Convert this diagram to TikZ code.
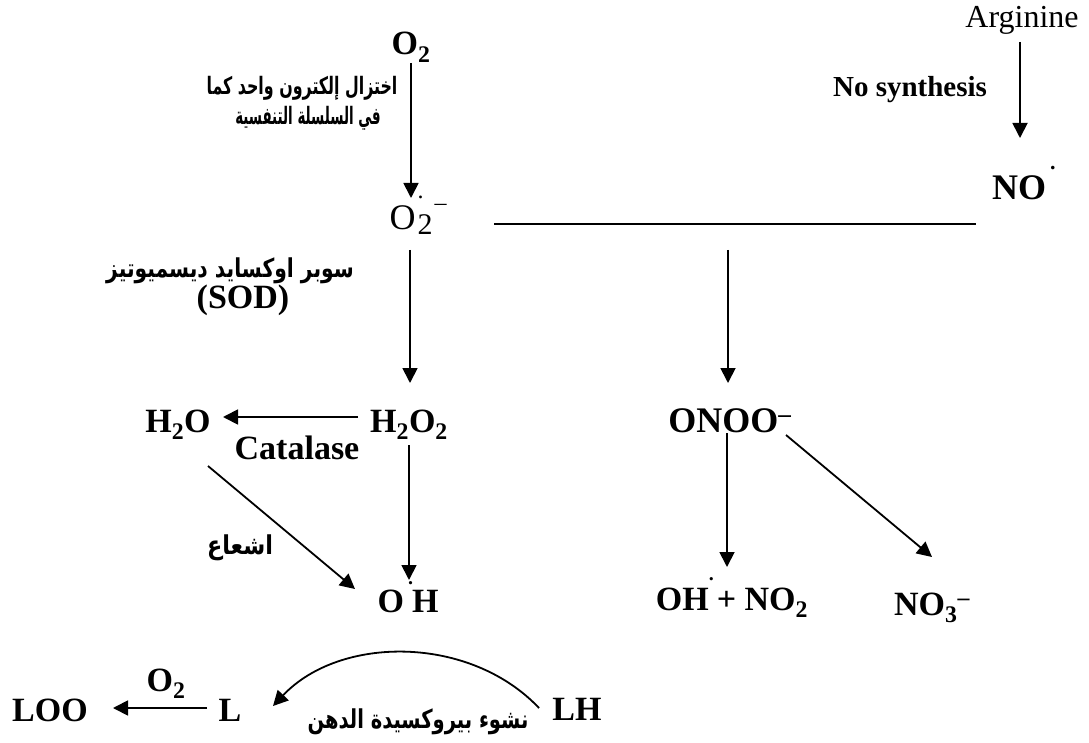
\documentclass[tikz,border=0pt]{standalone}
\usepackage{fontspec}
\setmainfont{Liberation Serif}
\newfontfamily\arabicfont[Script=Arabic]{DejaVu Sans}
\TeXXeTstate=1
\usetikzlibrary{arrows.meta,calc}
\begin{document}
\begin{tikzpicture}[x=1pt,y=-1pt,
  chem/.style={font=\fontsize{34}{34}\selectfont\bfseries, inner sep=0pt, anchor=base},
  chembig/.style={font=\fontsize{36}{36}\selectfont\bfseries, inner sep=0pt, anchor=base},
  chemreg/.style={font=\fontsize{32}{32}\selectfont, inner sep=0pt, anchor=base},
  lab/.style={font=\fontsize{29}{29}\selectfont\bfseries, inner sep=0pt, anchor=base},
  arlab/.style={font=\arabicfont\fontsize{26}{30}\selectfont\bfseries, inner sep=0pt, align=center},
  arr/.style={line width=1.8pt, -{Triangle[length=15pt,width=15pt]}},
  ln/.style={line width=1.8pt}]
\useasboundingbox (0,0) rectangle (1089,743);

% left column
\node[chem] (o2top) at (411,55) {O\textsubscript{2}};
\node[inner sep=0pt, anchor=base, font=\fontsize{36}{36}\selectfont] (o2m) at (418,230)
  {O\kern2pt\rlap{\raisebox{31pt}{\fontsize{24}{24}\selectfont.}}\raisebox{-5pt}{\fontsize{30}{30}\selectfont 2}\kern2pt\raisebox{19pt}{\fontsize{24}{24}\selectfont –}};
\node[chem] (h2o2) at (409,432) {H\textsubscript{2}O\textsubscript{2}};
\node[chem] (h2o) at (178,432) {H\textsubscript{2}O};
\node[chem] (oh) at (408,612) {O\kern4pt\rlap{\raisebox{28pt}{\fontsize{20}{20}\selectfont.}}\kern4pt H};
\node[chem] (cat) at (297,459) {Catalase};

\node[arlab, font=\arabicfont\fontsize{24}{30}\selectfont\bfseries] (ar1) at (302,103)
  {\scalebox{0.66}[1]{\beginR اختزال إلكترون واحد كما\endR}\\\hspace*{12pt}\scalebox{0.56}[1]{\beginR في السلسلة التنفسية\endR}};
\node[arlab] (ar2) at (230,271) {\scalebox{0.78}[1]{\beginR سوبر اوكسايد ديسميوتيز\endR}};
\node[chem] (sod) at (243,308) {(SOD)};
\node[arlab] (ar3) at (240,548) {\scalebox{0.86}[1]{\beginR اشعاع\endR}};

% right column
\node[chemreg] (arg) at (1022,28) {Arginine};
\node[lab] (nosyn) at (910,97) {No synthesis};
\node[chembig] (no) at (1019,200) {NO\rlap{\kern4pt\raisebox{30pt}{\fontsize{22}{22}\selectfont.}}};
\node[chembig] (onoo) at (730,432) {ONOO\textsuperscript{–}};
\node[chem] (ohno) at (732,610) {OH\rlap{\raisebox{30pt}{\fontsize{20}{20}\selectfont.}}\kern8pt + NO\textsubscript{2}};
\node[chem] (no3) at (932,615) {NO\textsubscript{3}\textsuperscript{–}};

\coordinate (hl) at (494,224);
\coordinate (hr) at (976,224);
\coordinate (hm) at (728,250);

% bottom row
\node[chem] (loo) at (50,721) {LOO};
\node[chem] (l) at (230,721) {L};
\node[chem] (lh) at (577,720) {LH};
\node[chem] (o2b) at (166,691) {O\textsubscript{2}};
\node[arlab] (ar4) at (418,722) {\scalebox{0.75}[1]{\beginR نشوء بيروكسيدة الدهن\endR}};

% connectors
\draw[arr] ($(o2top.base)+(0,8)$) -- ($(o2top.base |- o2m.base)+(0,-32)$);
\draw[arr] ($(h2o2.base |- o2m.base)+(1,20)$) -- ($(h2o2.base)+(1,-49)$);
\draw[arr] ($(h2o2.base)+(-51,-15)$) -- ($(h2o.base)+(45,-15)$);
\draw[arr] ($(h2o.base)+(30,34)$) -- ($(oh.base)+(-53,-23)$);
\draw[arr] ($(h2o2.base)+(0,13)$) -- ($(h2o2.base |- oh.base)+(0,-32)$);
\draw[ln] (hl) -- (hr);
\draw[arr] (hm) -- ($(hm |- onoo.base)+(0,-49)$);
\draw[arr] ($(onoo.base)+(-3,1)$) -- ($(onoo.base |- ohno.base)+(-3,-43)$);
\draw[arr] ($(onoo.base)+(56,3)$) -- ($(no3.base)+(0,-58)$);
\draw[arr] ($(arg.base)+(-2,14)$) -- ($(arg.base |- no.base)+(-2,-62)$);
\draw[arr] ($(l.base)+(-23,-13)$) -- ($(loo.base)+(63,-13)$);
\draw[arr] ($(lh.base)+(-38,-12)$) .. controls ($(lh.base)+(-107,-85)$) and ($(l.base)+(110,-86)$) .. ($(l.base)+(43,-15)$);
\end{tikzpicture}
\end{document}
